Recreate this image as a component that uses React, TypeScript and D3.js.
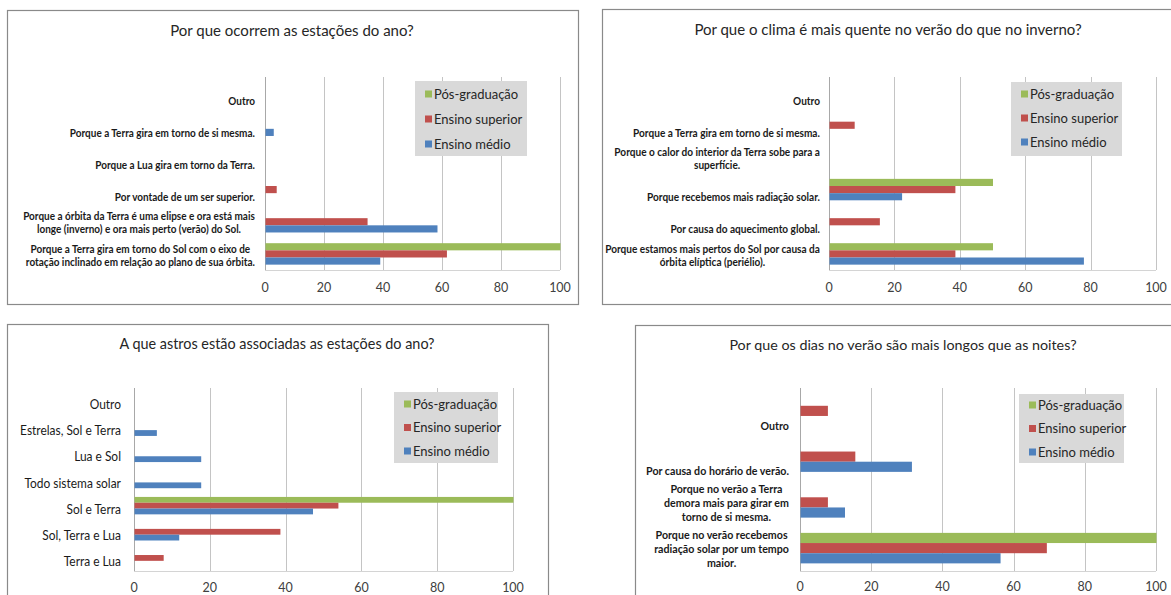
import React, { useEffect, useRef } from 'react';
import * as d3 from 'd3';

const seriesNames = ["Pós-graduação", "Ensino superior", "Ensino médio"];
const seriesColors = ["#9bbb59", "#c0504d", "#4f81bd"];
const xTicks = [0, 20, 40, 60, 80, 100];

// Por que ocorrem as estações do ano?  (categories top -> bottom, each one is a list of lines)
const seasonsTitle = "Por que ocorrem as estações do ano?";
const seasonsCategories = [
  ["Outro"],
  ["Porque a Terra gira em torno de si mesma."],
  ["Porque a Lua gira em torno da Terra."],
  ["Por vontade de um ser superior."],
  ["Porque a órbita da Terra é uma elipse e ora está mais", "longe (inverno) e ora mais perto (verão) do Sol."],
  ["Porque a Terra gira em torno do Sol com o eixo de", "rotação inclinado em relação ao plano de sua órbita."],
];
const seasonsPos = [0, 0, 0, 0, 0, 100];
const seasonsSup = [0, 0, 0, 3.8, 34.6, 61.5];
const seasonsMed = [0, 2.8, 0, 0, 58.3, 38.9];

// Por que o clima é mais quente no verão do que no inverno?
const climateTitle = "Por que o clima é mais quente no verão do que no inverno?";
const climateCategories = [
  ["Outro"],
  ["Porque a Terra gira em torno de si mesma."],
  ["Porque o calor do interior da Terra sobe para a", "superfície."],
  ["Porque recebemos mais radiação solar."],
  ["Por causa do aquecimento global."],
  ["Porque estamos mais pertos do Sol por causa da", "órbita elíptica (periélio)."],
];
const climatePos = [0, 0, 0, 50, 0, 50];
const climateSup = [0, 7.7, 0, 38.5, 15.4, 38.5];
const climateMed = [0, 0, 0, 22.2, 0, 77.8];

// A que astros estão associadas as estações do ano?
const starsTitle = "A que astros estão associadas as estações do ano?";
const starsCategories = [
  ["Outro"],
  ["Estrelas, Sol e Terra"],
  ["Lua e Sol"],
  ["Todo sistema solar"],
  ["Sol e Terra"],
  ["Sol, Terra  e Lua"],
  ["Terra e Lua"],
];
const starsPos = [0, 0, 0, 0, 100, 0, 0];
const starsSup = [0, 0, 0, 0, 53.8, 38.5, 7.7];
const starsMed = [0, 5.9, 17.6, 17.6, 47.1, 11.8, 0];

// Por que os dias no verão são mais longos que as noites?
const daysTitle = "Por que os dias no verão são mais longos que as noites?";
const daysCategories = [
  ["Outro"],
  ["Por causa do horário de verão."],
  ["Porque no verão a Terra", "demora mais para girar em", "torno de si mesma."],
  ["Porque no verão recebemos", "radiação solar por um  tempo", "maior."],
];
const daysPos = [0, 0, 0, 100];
const daysSup = [7.7, 15.4, 7.7, 69.2];
const daysMed = [0, 31.3, 12.5, 56.2];

type Layout = {
  frame: [number, number, number, number];
  plot: { left: number; right: number; top: number; bottom: number };
  labelRight: number;
  labelWidth: number; // width of the widest label line, the font is squeezed to it
  labelSize: number;
  labelWeight: string;
  lineHeight: number;
  labelShift: number;
  titleX: number;
  titleY: number;
  titleSize: number;
  legend: { x: number; y: number; w: number; h: number; first: number; gap: number };
  tickY: number;
};

type Panel = {
  title: string;
  categories: string[][];
  values: number[][];
  layout: Layout;
};

const panels: Panel[] = [
  {
    title: seasonsTitle,
    categories: seasonsCategories,
    values: [seasonsPos, seasonsSup, seasonsMed],
    layout: {
      frame: [7, 10, 571, 294],
      plot: { left: 265, right: 560, top: 77, bottom: 270 },
      labelRight: 255, labelWidth: 232, labelSize: 10.5, labelWeight: "bold", lineHeight: 13, labelShift: 1.5,
      titleX: 292, titleY: 31, titleSize: 15,
      legend: { x: 415, y: 81, w: 112, h: 75, first: 13, gap: 25 },
      tickY: 288,
    },
  },
  {
    title: climateTitle,
    categories: climateCategories,
    values: [climatePos, climateSup, climateMed],
    layout: {
      frame: [602, 9, 700, 295],
      plot: { left: 829, right: 1156, top: 77, bottom: 270 },
      labelRight: 820, labelWidth: 215, labelSize: 10.5, labelWeight: "bold", lineHeight: 13, labelShift: 1.5,
      titleX: 888, titleY: 30, titleSize: 15,
      legend: { x: 1011, y: 82, w: 111, h: 74, first: 12, gap: 24 },
      tickY: 288,
    },
  },
  {
    title: starsTitle,
    categories: starsCategories,
    values: [starsPos, starsSup, starsMed],
    layout: {
      frame: [7, 324, 541, 400],
      plot: { left: 134, right: 513, top: 388, bottom: 571 },
      labelRight: 121, labelWidth: 101, labelSize: 13, labelWeight: "normal", lineHeight: 15, labelShift: 3.5,
      titleX: 277, titleY: 344, titleSize: 14.4,
      legend: { x: 394, y: 392, w: 104, h: 71, first: 12, gap: 23.5 },
      tickY: 588,
    },
  },
  {
    title: daysTitle,
    categories: daysCategories,
    values: [daysPos, daysSup, daysMed],
    layout: {
      frame: [635, 325, 700, 400],
      plot: { left: 800, right: 1156, top: 388, bottom: 571 },
      labelRight: 789, labelWidth: 143, labelSize: 11, labelWeight: "bold", lineHeight: 14, labelShift: 1,
      titleX: 903, titleY: 345, titleSize: 14.3,
      legend: { x: 1019, y: 394, w: 105, h: 69, first: 11, gap: 23.5 },
      tickY: 587,
    },
  },
];

const mainFont = "Lato, 'Open Sans', sans-serif";

function drawPanel(root: d3.Selection<SVGSVGElement, unknown, null, undefined>, p: Panel) {
  const L = p.layout;
  const g = root.append("g");
  const [fx, fy, fw, fh] = L.frame;

  g.append("rect")
    .attr("x", fx + 0.5).attr("y", fy + 0.5)
    .attr("width", fw).attr("height", fh)
    .attr("fill", "#fff")
    .attr("stroke", "#8a8a8a")
    .attr("stroke-width", 1.2);

  g.append("text")
    .attr("x", L.titleX).attr("y", L.titleY)
    .attr("dy", "0.35em")
    .attr("text-anchor", "middle")
    .attr("font-family", mainFont)
    .attr("font-size", L.titleSize)
    .attr("fill", "#262626")
    .text(p.title);

  const keys = p.categories.map((_, i) => String(i));
  const x = d3.scaleLinear().domain([0, 100]).range([L.plot.left, L.plot.right]);
  const y = d3.scaleBand<string>().domain(keys)
    .range([L.plot.top, L.plot.bottom])
    .paddingInner(1 / 3).paddingOuter(1 / 6);
  const ys = d3.scaleBand<string>().domain(seriesNames).range([0, y.bandwidth()]);

  // gridlines
  g.append("g").selectAll("line")
    .data(xTicks.slice(1))
    .join("line")
      .attr("x1", d => Math.round(x(d)) + 0.5).attr("x2", d => Math.round(x(d)) + 0.5)
      .attr("y1", L.plot.top).attr("y2", L.plot.bottom)
      .attr("stroke", "#c4c4c4");

  // axes
  g.append("line")
    .attr("x1", L.plot.left).attr("x2", L.plot.right)
    .attr("y1", L.plot.bottom + 0.5).attr("y2", L.plot.bottom + 0.5)
    .attr("stroke", "#d4d4d4");
  g.append("line")
    .attr("x1", Math.round(x(0)) + 0.5).attr("x2", Math.round(x(0)) + 0.5)
    .attr("y1", L.plot.top).attr("y2", L.plot.bottom)
    .attr("stroke", "#a8a8a8");

  // bars
  seriesNames.forEach((s, si) => {
    g.append("g").selectAll("rect")
      .data(p.values[si].map((v, ci) => ({ v, ci })).filter(d => d.v > 0))
      .join("rect")
        .attr("x", x(0) + 0.5)
        .attr("y", d => (y(String(d.ci)) as number) + (ys(s) as number))
        .attr("width", d => x(d.v) - x(0))
        .attr("height", ys.bandwidth())
        .attr("fill", seriesColors[si]);
  });

  // tick labels
  g.append("g").selectAll("text")
    .data(xTicks)
    .join("text")
      .attr("x", d => x(d)).attr("y", L.tickY)
      .attr("dy", "0.35em")
      .attr("text-anchor", "middle")
      .attr("font-family", mainFont)
      .attr("font-size", 12.5)
      .attr("fill", "#404040")
      .text(d => d);

  // category labels: block right-aligned, lines centred, short labels sit at the bottom of the box
  const maxLines = d3.max(p.categories, c => c.length) as number;
  const groups = p.categories.map((lines, ci) => {
    const center = (y(String(ci)) as number) + y.bandwidth() / 2;
    const lg = g.append("g");
    const texts = lines.map((line, li) =>
      lg.append("text")
        .attr("x", 0)
        .attr("y", center - (maxLines * L.lineHeight) / 2 + (maxLines - lines.length + li + 0.5) * L.lineHeight + L.labelShift)
        .attr("dy", "0.35em")
        .attr("text-anchor", "middle")
        .attr("font-family", mainFont)
        .attr("font-size", L.labelSize)
        .attr("font-weight", L.labelWeight)
        .attr("fill", "#1a1a1a")
        .text(line)
    );
    const w = d3.max(texts, t => (t.node() as SVGTextElement).getComputedTextLength()) as number;
    return { lg, w };
  });
  // Calibri is narrower than anything installed: squeeze horizontally
  const k = L.labelWidth / (d3.max(groups, d => d.w) as number);
  groups.forEach(({ lg, w }) => {
    lg.attr("transform", `translate(${L.labelRight - (w * k) / 2},0) scale(${k},1)`);
  });

  // legend
  const leg = g.append("g");
  leg.append("rect")
    .attr("x", L.legend.x).attr("y", L.legend.y)
    .attr("width", L.legend.w).attr("height", L.legend.h)
    .attr("fill", "#d9d9d9");
  seriesNames.forEach((s, si) => {
    const cy = L.legend.y + L.legend.first + si * L.legend.gap;
    leg.append("rect")
      .attr("x", L.legend.x + 10).attr("y", cy - 3.5)
      .attr("width", 7).attr("height", 7)
      .attr("fill", seriesColors[si]);
    leg.append("text")
      .attr("x", L.legend.x + 19).attr("y", cy)
      .attr("dy", "0.35em")
      .attr("font-family", mainFont)
      .attr("font-size", 13)
      .attr("fill", "#262626")
      .text(s);
  });
}

export default function App() {
  const svgRef = useRef<SVGSVGElement>(null);

  useEffect(() => {
    const svg = d3.select(svgRef.current as SVGSVGElement);
    svg.selectAll("*").remove();
    svg.append("rect").attr("width", 1171).attr("height", 595).attr("fill", "#fff");
    panels.forEach(p => drawPanel(svg, p));
  }, []);

  return (
    <svg
      ref={svgRef}
      width={1171}
      height={595}
      viewBox="0 0 1171 595"
      style={{ position: 'absolute', left: 0, top: 0, display: 'block' }}
    />
  );
}
